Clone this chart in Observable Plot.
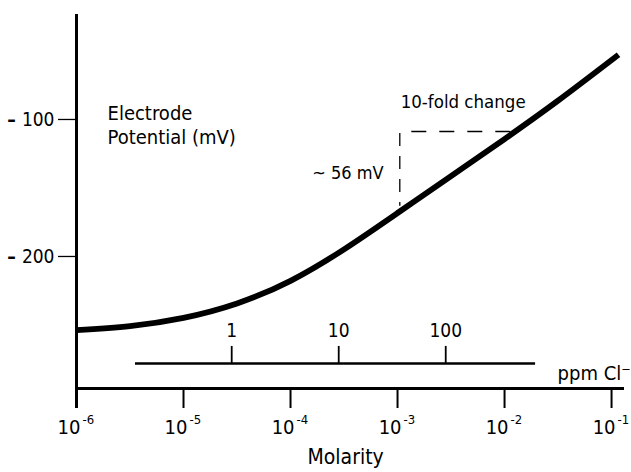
<!DOCTYPE html>
<html>
<head>
<meta charset="utf-8">
<script src="https://cdn.jsdelivr.net/npm/d3@7"></script>
<script src="https://cdn.jsdelivr.net/npm/@observablehq/plot@0.6"></script>
<style>
  html, body { margin: 0; padding: 0; background: #fff; }
  svg { display: block; }
</style>
</head>
<body>
<div id="chart"></div>
<script>
// Electrode response curve: log10(molarity) vs electrode potential (mV)
const logMolarity = [-6.0, -5.5, -5.0, -4.5, -4.0, -3.5, -3.0, -2.5, -2.0, -1.5, -0.935];
const potential   = [-254.5, -251.5, -245.5, -235, -218.5, -195.5, -169, -142, -115, -87, -53.5];

// Molarity axis ticks
const molarityTicks = [1e-6, 1e-5, 1e-4, 1e-3, 1e-2, 1e-1];
const molarityExponents = ["-6", "-5", "-4", "-3", "-2", "-1"];

// Potential axis ticks
const potentialTicks = [-100, -200];

// ppm Cl- secondary scale
const ppmTicks = [1, 10, 100];
const ppmLabels = ["1", "10", "100"];
const chlorideMolarMass = 35.45; // g/mol, ppm (mg/L) -> mol/L
const ppmLineExtent = [3.56e-6, 0.0195]; // molarity where the ppm line starts/ends

// 10-fold change annotation (molarity, mV)
const dashCorner = {m: 1.05e-3, mv: -109.5};
const dashVerticalEnd = -164;
const dashHorizontalEnd = 0.0121;

const curve = logMolarity.map((l, i) => ({m: Math.pow(10, l), mv: potential[i]}));
const ppmData = ppmTicks.map((p, i) => ({m: p / 1000 / chlorideMolarMass, label: ppmLabels[i]}));
const xTickData = molarityTicks.map((m, i) => ({m, exp: molarityExponents[i]}));

const FONT = "'DejaVu Sans Condensed', 'Liberation Sans Narrow', 'Liberation Sans', sans-serif";

const yBottom = -297.1, yTop = -24.1;
const ppmLineY = -278.8, ppmTickTop = -266.4, ppmLabelY = -255.1;
const xTickBottom = -311.7;
const xLabelY = -325.4, xExpY = -323.2;

const chart = Plot.plot({
  width: 631,
  height: 472,
  marginLeft: 76,
  marginRight: 7,
  marginTop: 14,
  marginBottom: 84,
  style: {fontFamily: FONT, fontSize: "20px", color: "#000", background: "#fff", overflow: "visible"},
  x: {type: "log", domain: [1e-6, Math.pow(10, -0.879)], axis: null},
  y: {domain: [yBottom, yTop], axis: null},
  marks: [
    // y axis ticks + labels
    Plot.axisY({ticks: potentialTicks, tickSize: 18, tickPadding: 4, tickFormat: d => String(Math.abs(d)),
      fontSize: 19, stroke: "#000", strokeWidth: 1.3, label: null, dy: 1}),
    Plot.text(potentialTicks, {x: 1e-6, y: d => d, text: () => "–", dx: -65, dy: 1, fontSize: 19, fontWeight: "bold"}),
    // axis lines
    Plot.ruleX([1e-6], {y1: xTickBottom, y2: yTop, stroke: "#000", strokeWidth: 3}),
    Plot.ruleY([yBottom], {stroke: "#000", strokeWidth: 3}),
    // x ticks
    Plot.ruleX(molarityTicks, {y1: yBottom, y2: xTickBottom, stroke: "#000", strokeWidth: 2}),
    Plot.text(xTickData, {x: "m", y: xLabelY, text: () => "10", textAnchor: "end", dx: 4, fontSize: 20}),
    Plot.text(xTickData, {x: "m", y: xExpY, text: "exp", textAnchor: "start", dx: 6, fontSize: 13, dy: -4}),
    Plot.text(["Molarity"], {x: 3.27e-4, y: -347.4, text: d => d, fontSize: 21}),
    // ppm scale
    Plot.ruleY([ppmLineY], {x1: ppmLineExtent[0], x2: ppmLineExtent[1], stroke: "#000", strokeWidth: 2.6}),
    Plot.ruleX(ppmData, {x: "m", y1: ppmLineY, y2: ppmTickTop, stroke: "#000", strokeWidth: 1.8}),
    Plot.text(ppmData, {x: "m", y: ppmLabelY, text: "label", fontSize: 19}),
    Plot.text(["ppm Cl⁻"], {x: 0.0313, y: -286, text: d => d, textAnchor: "start", fontSize: 20}),
    // dashed 10-fold construction
    Plot.ruleX([dashCorner.m], {y1: dashCorner.mv - 1.5, y2: dashVerticalEnd, stroke: "#000", strokeWidth: 1.3, strokeDasharray: "13,10"}),
    Plot.ruleY([dashCorner.mv], {x1: dashCorner.m, x2: dashHorizontalEnd, stroke: "#000", strokeWidth: 1.3, strokeDasharray: "15,13", strokeDashoffset: -12}),
    // curve
    Plot.line(curve, {x: "m", y: "mv", curve: "natural", stroke: "#000", strokeWidth: 5.8, strokeLinecap: "butt"}),
    // annotations
    Plot.text(["Electrode\nPotential (mV)"], {x: 1.95e-6, y: -104, text: d => d, textAnchor: "start", lineHeight: 1.2, fontSize: 20}),
    Plot.text(["10-fold change"], {x: 1.07e-3, y: -88.3, text: d => d, textAnchor: "start", fontSize: 18.5}),
    Plot.text(["~ 56 mV"], {x: 7.4e-4, y: -140, text: d => d, textAnchor: "end", fontSize: 18})
  ]
});
document.getElementById("chart").appendChild(chart);
</script>
</body>
</html>
